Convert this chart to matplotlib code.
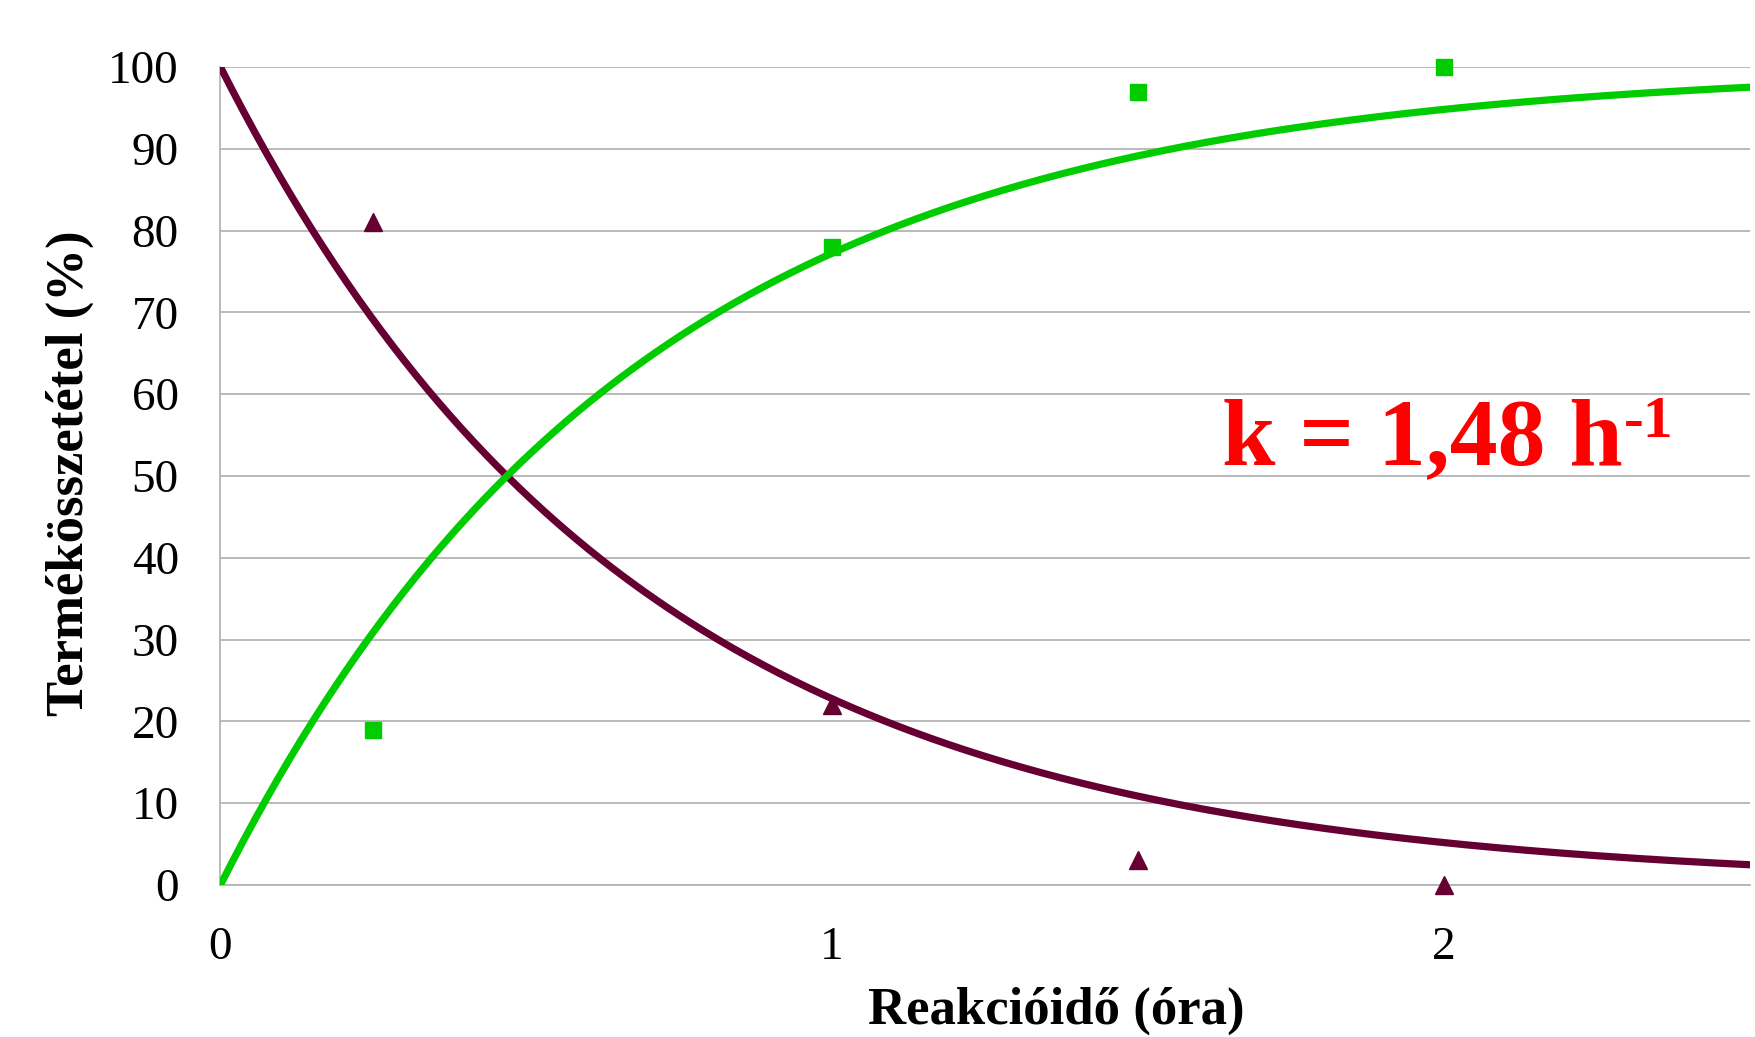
import numpy as np
import matplotlib
matplotlib.use("Agg")
import matplotlib.pyplot as plt

# mért pontok (reakcióidő, óra)
t_meres = [0.25, 1.0, 1.5, 2.0]
kiindulo = [81, 22, 3, 0]      # fogyó komponens (háromszög)
termek = [19, 78, 97, 100]     # keletkező termék (négyzet)

# illesztett elsőrendű kinetika
k = 1.48
t_max = 2.5

yticks = list(range(0, 101, 10))
xticks = [0, 1, 2]

lila = "#660033"
zold = "#00CC00"
racs = "#B4B4B4"

plt.rcParams["font.family"] = ["Liberation Serif", "DejaVu Serif"]

fig = plt.figure(figsize=(17.55, 10.37), dpi=100)
ax = fig.add_axes([0.1256, 0.1466, 0.9970 - 0.1256, 0.9354 - 0.1466])

# trendvonalak
t_fit = np.linspace(0, t_max, 400)
ax.plot(t_fit, 100 * np.exp(-k * t_fit), color=lila, lw=5.2, zorder=3)
ax.plot(t_fit, 100 * (1 - np.exp(-k * t_fit)), color=zold, lw=5.2, zorder=3)

# mérési pontok
ax.plot(t_meres, kiindulo, ls="none", marker="^", ms=13, color=lila,
        zorder=4, clip_on=False)
ax.plot(t_meres, termek, ls="none", marker="s", ms=12, color=zold,
        zorder=4, clip_on=False)

ax.set_xlim(0, t_max)
ax.set_ylim(0, 100)
ax.set_yticks(yticks)
ax.set_xticks(xticks)
ax.set_xticklabels([str(v) for v in xticks])
ax.yaxis.grid(True, color=racs, lw=1.3)
ax.set_axisbelow(True)
ax.tick_params(length=0, labelsize=34)
ax.tick_params(axis="y", pad=30)
ax.tick_params(axis="x", pad=30)
for s in ["top", "right"]:
    ax.spines[s].set_visible(False)
for s in ["left", "bottom"]:
    ax.spines[s].set_color(racs)
    ax.spines[s].set_linewidth(1.3)
ax.spines["bottom"].set_zorder(1)

fig.text(0.602, 0.025, "Reakcióidő (óra)", ha="center", va="center",
         fontsize=38, fontweight="bold")
fig.text(0.040, 0.544, "Termékösszetétel (%)", ha="center", va="center",
         rotation=90, fontsize=38, fontweight="bold")

# sebességi állandó felirat
fo = ax.text(1.637, 51.4, "k = 1,48 h", color="red", fontsize=69,
             fontweight="bold", ha="left", va="baseline")
ax.annotate("-1", xy=(1, 1), xycoords=fo, xytext=(1, 2),
            textcoords="offset points", ha="left", va="top",
            color="red", fontsize=43, fontweight="bold")

fig.savefig("out.png", dpi=100)
